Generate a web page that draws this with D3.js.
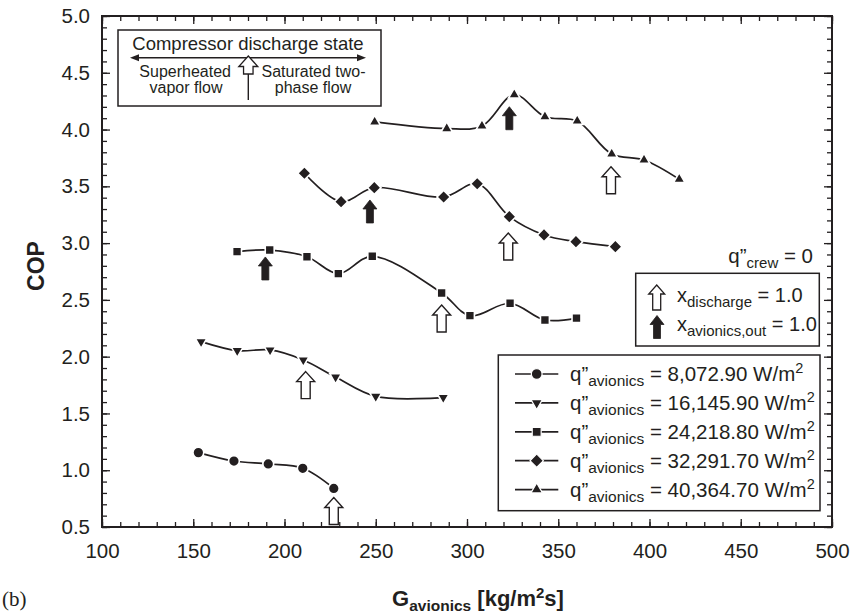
<!DOCTYPE html>
<html><head><meta charset="utf-8">
<script src="https://cdn.jsdelivr.net/npm/d3@7"></script>
<style>
html,body{margin:0;padding:0;background:#fff;}
svg{display:block;font-family:"Liberation Sans",Arial,Helvetica,sans-serif;}
</style></head>
<body>
<svg id="chart" width="850" height="615"></svg>
<script>
// ---------------- DATA ----------------
const seriesLabels = ["8,072.90", "16,145.90", "24,218.80", "32,291.70", "40,364.70"];
const seriesSymbols = ["circle", "triangleDown", "square", "diamond", "triangleUp"];

const g1 = [152.8, 172.3, 191.1, 210.0, 227.0];
const cop1 = [1.155, 1.081, 1.055, 1.017, 0.84];

const g2 = [154.3, 174.1, 192.1, 210.3, 228.0, 250.0, 287.0];
const cop2 = [2.132, 2.053, 2.059, 1.971, 1.82, 1.65, 1.64];

const g3 = [174.0, 191.9, 212.3, 229.5, 248.1, 286.1, 301.6, 323.6, 342.7, 360.0];
const cop3 = [2.925, 2.939, 2.880, 2.731, 2.884, 2.561, 2.361, 2.470, 2.323, 2.34];

const g4 = [210.9, 231.0, 249.2, 287.2, 305.6, 323.2, 342.2, 359.7, 381.3];
const cop4 = [3.615, 3.365, 3.488, 3.406, 3.523, 3.233, 3.072, 3.013, 2.969];

const g5 = [249.4, 288.9, 308.2, 325.9, 342.7, 360.4, 379.3, 397.0, 416.3];
const cop5 = [4.067, 4.008, 4.031, 4.307, 4.113, 4.075, 3.785, 3.732, 3.562];

// arrows: x_discharge = 1.0 (open) and x_avionics,out = 1.0 (filled); tip position
const openArrowG = [227.0, 211.6, 286.1, 322.6, 378.9];
const openArrowTip = [0.76, 1.868, 2.455, 3.089, 3.673];
const filledArrowG = [189.5, 246.8, 323.2];
const filledArrowTip = [2.878, 3.380, 4.201];

const xMajorTicks = [100, 150, 200, 250, 300, 350, 400, 450, 500];
const yMajorTicks = [0.5, 1.0, 1.5, 2.0, 2.5, 3.0, 3.5, 4.0, 4.5, 5.0];

// ---------------- CHART ----------------
const svg = d3.select("#chart");
const FONT = '"Liberation Sans",Arial,Helvetica,sans-serif';
const INK = "#231f20";

const x = d3.scaleLinear().domain([100, 500]).range([102, 832]);
const y = d3.scaleLinear().domain([0.5, 5.0]).range([527, 16]);

const xMinor = d3.range(100, 500.01, 10);
const yMinor = d3.range(0.5, 5.001, 0.1).map(v => +v.toFixed(2));

function styleAxis(g) {
  g.select(".domain").remove();
  g.selectAll(".tick line").attr("stroke", INK).attr("stroke-width", 1.3);
  g.selectAll(".tick text").attr("fill", INK).attr("font-family", FONT);
}

// minor ticks
svg.append("g").attr("transform", "translate(0,527)")
  .call(d3.axisBottom(x).tickValues(xMinor).tickSize(-5).tickFormat("")).call(styleAxis);
svg.append("g").attr("transform", "translate(0,16)")
  .call(d3.axisTop(x).tickValues(xMinor).tickSize(-5).tickFormat("")).call(styleAxis);
svg.append("g").attr("transform", "translate(102,0)")
  .call(d3.axisLeft(y).tickValues(yMinor).tickSize(-5).tickFormat("")).call(styleAxis);
svg.append("g").attr("transform", "translate(832,0)")
  .call(d3.axisRight(y).tickValues(yMinor).tickSize(-5).tickFormat("")).call(styleAxis);

// major ticks
svg.append("g").attr("transform", "translate(0,527)")
  .call(d3.axisBottom(x).tickValues(xMajorTicks).tickSize(-8).tickPadding(16).tickFormat(d3.format("d")))
  .call(styleAxis).call(g => g.selectAll(".tick text").attr("font-size", 20.5));
svg.append("g").attr("transform", "translate(0,16)")
  .call(d3.axisTop(x).tickValues(xMajorTicks).tickSize(-8).tickFormat("")).call(styleAxis);
svg.append("g").attr("transform", "translate(102,0)")
  .call(d3.axisLeft(y).tickValues(yMajorTicks).tickSize(-8).tickPadding(12).tickFormat(d3.format(".1f")))
  .call(styleAxis).call(g => g.selectAll(".tick text").attr("font-size", 20.5));
svg.append("g").attr("transform", "translate(832,0)")
  .call(d3.axisRight(y).tickValues(yMajorTicks).tickSize(-8).tickFormat("")).call(styleAxis);

// frame
svg.append("rect").attr("x", 102).attr("y", 16).attr("width", 730).attr("height", 511)
  .attr("fill", "none").attr("stroke", INK).attr("stroke-width", 2);

// axis titles
svg.append("text").attr("transform", "translate(44,266) rotate(-90)")
  .attr("text-anchor", "middle").attr("font-size", 23).attr("font-weight", "bold").attr("fill", INK)
  .text("COP");

const xt = svg.append("text").attr("x", 478).attr("y", 606).attr("text-anchor", "middle")
  .attr("font-size", 22).attr("font-weight", "bold").attr("fill", INK);
xt.append("tspan").text("G");
xt.append("tspan").attr("font-size", 15.5).attr("dy", 5).text("avionics");
xt.append("tspan").attr("dy", -5).text(" [kg/m");
xt.append("tspan").attr("font-size", 15).attr("dy", -8).text("2");
xt.append("tspan").attr("dy", 8).text("s]");

svg.append("text").attr("x", 2).attr("y", 606).attr("font-family", '"Liberation Serif","Times New Roman",serif')
  .attr("font-size", 21).attr("fill", INK).text("(b)");

// symbols
function symbolPath(type) {
  switch (type) {
    case "circle": return d3.symbol(d3.symbolCircle, 92)();
    case "square": return d3.symbol(d3.symbolSquare, 80)();
    case "diamond": return d3.symbol(d3.symbolSquare, 90)();
    case "triangleUp": return d3.symbol(d3.symbolTriangle, 58)();
    case "triangleDown": return d3.symbol(d3.symbolTriangle, 58)();
  }
}
function symbolRot(type) {
  return type === "diamond" ? 45 : (type === "triangleDown" ? 180 : 0);
}

const seriesG = [g1, g2, g3, g4, g5];
const seriesCop = [cop1, cop2, cop3, cop4, cop5];

const line = d3.line().x(d => x(d[0])).y(d => y(d[1])).curve(d3.curveCatmullRom.alpha(0.5));

seriesG.forEach((gs, i) => {
  const pts = gs.map((g, j) => [g, seriesCop[i][j]]);
  svg.append("path").datum(pts).attr("d", line)
    .attr("fill", "none").attr("stroke", INK).attr("stroke-width", 1.7);
});
seriesG.forEach((gs, i) => {
  const pts = gs.map((g, j) => [g, seriesCop[i][j]]);
  const t = seriesSymbols[i];
  svg.append("g").selectAll("path").data(pts).join("path")
    .attr("d", symbolPath(t))
    .attr("transform", d => `translate(${x(d[0])},${y(d[1])}) rotate(${symbolRot(t)})`)
    .attr("fill", INK).attr("stroke", "#fff").attr("stroke-width", 1.6);
});

// arrows
function arrowPath(tx, ty, headW, headH, shaftW, len) {
  const hw = headW / 2, sw = shaftW / 2;
  return `M${tx},${ty} L${tx + hw},${ty + headH} L${tx + sw},${ty + headH} L${tx + sw},${ty + len} ` +
         `L${tx - sw},${ty + len} L${tx - sw},${ty + headH} L${tx - hw},${ty + headH} Z`;
}
svg.append("g").selectAll("path").data(openArrowG.map((g, i) => [g, openArrowTip[i]])).join("path")
  .attr("d", d => arrowPath(x(d[0]), y(d[1]), 18, 10, 9, 27))
  .attr("fill", "#fff").attr("stroke", INK).attr("stroke-width", 1.4).attr("stroke-linejoin", "miter");
svg.append("g").selectAll("path").data(filledArrowG.map((g, i) => [g, filledArrowTip[i]])).join("path")
  .attr("d", d => arrowPath(x(d[0]), y(d[1]), 14, 9, 7, 23))
  .attr("fill", INK).attr("stroke", INK).attr("stroke-width", 0.8);

// ---- Box 1: compressor discharge state ----
const b1 = svg.append("g");
b1.append("rect").attr("x", 118).attr("y", 30).attr("width", 263).attr("height", 76)
  .attr("fill", "#fff").attr("stroke", INK).attr("stroke-width", 1.5);
b1.append("text").attr("x", 248).attr("y", 50).attr("text-anchor", "middle")
  .attr("font-size", 18.5).attr("fill", INK).text("Compressor discharge state");
b1.append("line").attr("x1", 136).attr("x2", 360).attr("y1", 57.7).attr("y2", 57.7)
  .attr("stroke", INK).attr("stroke-width", 1.4);
b1.append("path").attr("d", "M130,57.7 L139,54.2 L139,61.2 Z").attr("fill", INK);
b1.append("path").attr("d", "M366,57.7 L357,54.2 L357,61.2 Z").attr("fill", INK);
b1.append("line").attr("x1", 248.3).attr("x2", 248.3).attr("y1", 74).attr("y2", 100)
  .attr("stroke", INK).attr("stroke-width", 1.4);
b1.append("path").attr("d", arrowPath(248.3, 56, 19, 10.5, 9.5, 18))
  .attr("fill", "#fff").attr("stroke", INK).attr("stroke-width", 1.3);
b1.append("text").attr("x", 231).attr("y", 77).attr("text-anchor", "end")
  .attr("font-size", 16).attr("fill", INK).text("Superheated");
b1.append("text").attr("x", 186).attr("y", 92.5).attr("text-anchor", "middle")
  .attr("font-size", 16).attr("fill", INK).text("vapor \uFB02ow");
b1.append("text").attr("x", 261.5).attr("y", 77).attr("text-anchor", "start")
  .attr("font-size", 16).attr("fill", INK).text("Saturated two-");
b1.append("text").attr("x", 313).attr("y", 92.5).attr("text-anchor", "middle")
  .attr("font-size", 16).attr("fill", INK).text("phase \uFB02ow");

// ---- q"crew = 0 ----
const qc = svg.append("text").attr("x", 813).attr("y", 263).attr("text-anchor", "end")
  .attr("font-size", 20.5).attr("fill", INK);
qc.append("tspan").text("q\u201D");
qc.append("tspan").attr("font-size", 15).attr("dy", 5).text("crew");
qc.append("tspan").attr("dy", -5).text(" = 0");

// ---- Box 2: arrow legend ----
const b2 = svg.append("g");
b2.append("rect").attr("x", 635.7).attr("y", 273.3).attr("width", 183.6).attr("height", 72.7)
  .attr("fill", "#fff").attr("stroke", INK).attr("stroke-width", 1.5);
b2.append("path").attr("d", arrowPath(656.7, 285, 16, 9, 8, 25))
  .attr("fill", "#fff").attr("stroke", INK).attr("stroke-width", 1.3);
b2.append("path").attr("d", arrowPath(657, 315.5, 14, 9, 7, 23))
  .attr("fill", INK).attr("stroke", INK).attr("stroke-width", 0.8);
const l2a = b2.append("text").attr("x", 677).attr("y", 302).attr("font-size", 20).attr("fill", INK);
l2a.append("tspan").text("x");
l2a.append("tspan").attr("font-size", 15).attr("dy", 5).text("discharge");
l2a.append("tspan").attr("dy", -5).text(" = 1.0");
const l2b = b2.append("text").attr("x", 677).attr("y", 331).attr("font-size", 20).attr("fill", INK);
l2b.append("tspan").text("x");
l2b.append("tspan").attr("font-size", 15).attr("dy", 5).text("avionics,out");
l2b.append("tspan").attr("dy", -5).text(" = 1.0");

// ---- Box 3: series legend ----
const b3 = svg.append("g");
b3.append("rect").attr("x", 498.3).attr("y", 355).attr("width", 321.7).attr("height", 155.7)
  .attr("fill", "#fff").attr("stroke", INK).attr("stroke-width", 1.5);
seriesLabels.forEach((lab, i) => {
  const cy = 374 + i * 28.9;
  b3.append("line").attr("x1", 515).attr("x2", 558.3).attr("y1", cy).attr("y2", cy)
    .attr("stroke", INK).attr("stroke-width", 1.7);
  const t = seriesSymbols[i];
  b3.append("path").attr("d", symbolPath(t))
    .attr("transform", `translate(536.7,${cy}) rotate(${symbolRot(t)})`)
    .attr("fill", INK).attr("stroke", "#fff").attr("stroke-width", 1.2);
  const tx = b3.append("text").attr("x", 570).attr("y", cy + 7).attr("font-size", 20.5).attr("fill", INK);
  tx.append("tspan").text("q\u201D");
  tx.append("tspan").attr("font-size", 15.5).attr("dy", 5).text("avionics");
  tx.append("tspan").attr("dy", -5).text(" = " + lab + " W/m");
  tx.append("tspan").attr("font-size", 14.5).attr("dy", -8).text("2");
});
</script>
</body></html>
